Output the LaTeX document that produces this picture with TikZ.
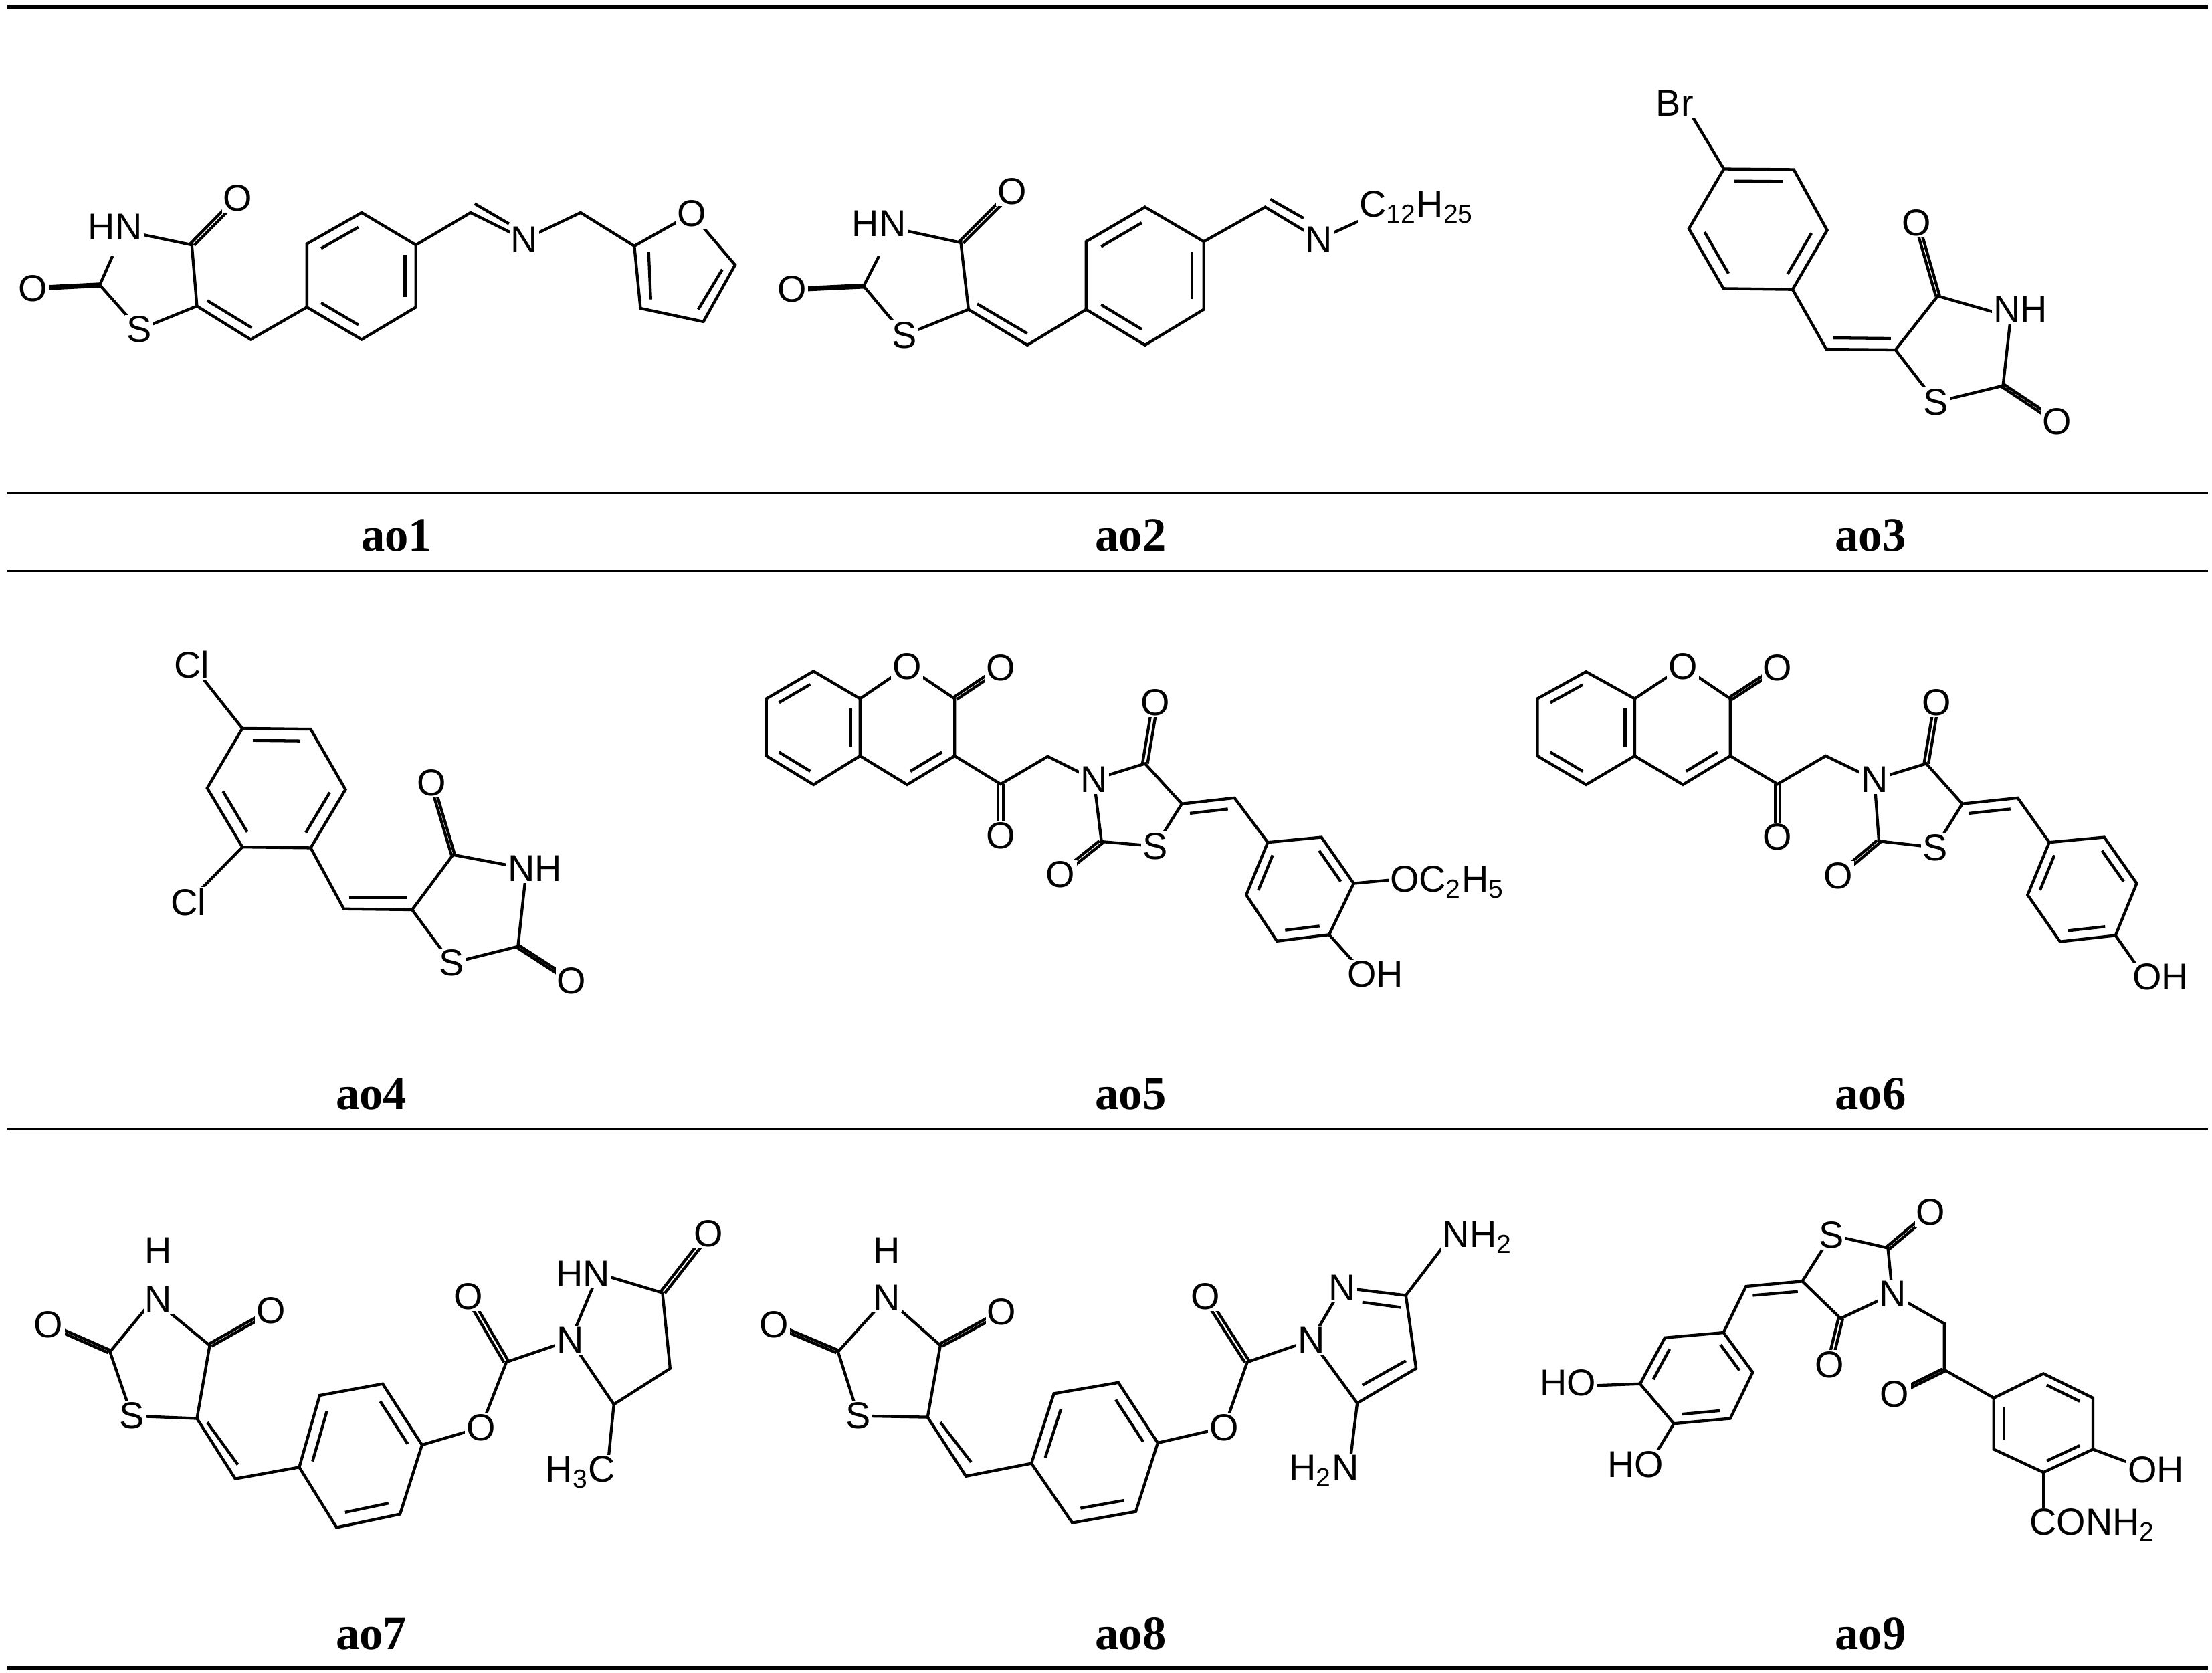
\documentclass[tikz,border=0pt]{standalone}
\usepackage{fontspec}
\setmainfont{Liberation Sans}
\newfontfamily\lblfont{Liberation Serif}
\usetikzlibrary{calc}
\newcommand\ib[3]{\draw[bond,shorten <=1.5pt,shorten >=1.5pt] ($#1!0.2!#3$) -- ($#2!0.2!#3$);}
\newcommand\dbo[2]{\draw[bond] ($#1!2.8pt!90:#2$) -- ($#2!2.8pt!-90:#1$); \draw[bond] ($#1!2.8pt!-90:#2$) -- ($#2!2.8pt!90:#1$);}
\newcommand\sub[1]{\textsubscript{#1}}
\begin{document}
\begin{tikzpicture}[x=0.02cm,y=-0.02cm,
  bond/.style={line width=1.15pt,line join=miter},
  atom/.style={fill=white,inner sep=0.6pt,font=\fontsize{15}{15}\selectfont},
  lbl/.style={font=\lblfont\bfseries\fontsize{19}{19}\selectfont}]
\useasboundingbox (0,0) rectangle (1561,1180.5);
% rules
\draw[line width=1.8pt] (5,5) -- (1558,5);
\draw[line width=0.7pt] (5,348) -- (1558,348);
\draw[line width=0.7pt] (5,403) -- (1558,403);
\draw[line width=0.7pt] (5,797) -- (1558,797);
\draw[line width=1.8pt] (5,1177) -- (1558,1177);
% compound labels
\node[lbl] (l1) at (280,378) {ao1};
\node[lbl] (l2) at (798,378) {ao2};
\node[lbl] (l3) at (1320,378) {ao3};
\node[lbl] (l4) at (262,772) {ao4};
\node[lbl] (l5) at (798,772) {ao5};
\node[lbl] (l6) at (1320,772) {ao6};
\node[lbl] (l7) at (262,1153) {ao7};
\node[lbl] (l8) at (798,1153) {ao8};
\node[lbl] (l9) at (1320,1153) {ao9};

% ---------------- ao1
\begin{scope}[shift={(0,70.8)},xscale=0.361,yscale=0.157]
\draw[bond] (250,590)--(375,650)--(385,925)--(272,1030)--(195,830)--(220,700);
\draw[bond] (385,925)--(490,1075)--(600,930);
\draw[bond] (405,900)--(492,1022);
\dbo{(375,650)}{(465,440)}
\dbo{(195,830)}{(65,845)}
\draw[bond] (600,930)--(600,645)--(707,505)--(813,650)--(813,930)--(707,1075)--cycle;
\ib{(600,930)}{(707,1075)}{(707,790)}
\ib{(600,645)}{(707,505)}{(707,790)}
\ib{(813,650)}{(813,930)}{(707,790)}
\draw[bond] (813,650)--(920,505)--(1025,625)--(1135,505)--(1240,655);
\draw[bond] (928,465)--(995,555);
\draw[bond] (1240,655)--(1352,510)--(1437,740)--(1375,995)--(1252,935)--cycle;
\draw[bond] (1268,680)--(1272,895);
\draw[bond] (1365,940)--(1412,760);
\node[atom] (a1hn) at (225,570) {HN};
\node[atom] (a1o4) at (465,440) {O};
\node[atom] (a1o2) at (65,845) {O};
\node[atom] (a1s) at (272,1030) {S};
\node[atom] (a1n) at (1025,625) {N};
\node[atom] (a1of) at (1352,510) {O};
\end{scope}

% ---------------- ao2
\begin{scope}[shift={(519.2,70.8)},xscale=0.361,yscale=0.157]
\draw[bond] (310,575)--(440,640)--(455,940)--(330,1055)--(250,835)--(280,700);
\draw[bond] (455,940)--(570,1100)--(685,940);
\draw[bond] (472,915)--(570,1048);
\dbo{(440,640)}{(540,410)}
\dbo{(250,835)}{(110,850)}
\draw[bond] (685,940)--(685,635)--(800,480)--(915,635)--(915,940)--(800,1100)--cycle;
\ib{(685,940)}{(800,1100)}{(800,790)}
\ib{(685,635)}{(800,480)}{(800,790)}
\ib{(915,635)}{(915,940)}{(800,790)}
\draw[bond] (915,635)--(1035,480)--(1140,625)--(1240,520);
\draw[bond] (1045,445)--(1110,530);
\node[atom] (a2hn) at (280,555) {HN};
\node[atom] (a2o4) at (540,410) {O};
\node[atom] (a2o2) at (110,850) {O};
\node[atom] (a2s) at (330,1055) {S};
\node[atom] (a2n) at (1140,625) {N};
\node[atom,anchor=west] (a2r) at (1215,480) {C\sub{12}H\sub{25}};
\end{scope}

% ---------------- ao3
\begin{scope}[shift={(1085.6,0)},xscale=0.271,yscale=0.211]
\draw[bond] (380,345)--(483,565);
\draw[bond] (483,565)--(665,567)--(752,770)--(662,968)--(482,965)--(392,765)--cycle;
\ib{(483,565)}{(665,567)}{(572,767)}
\ib{(752,770)}{(662,968)}{(572,767)}
\ib{(482,965)}{(392,765)}{(572,767)}
\draw[bond] (662,968)--(750,1168)--(930,1170)--(1040,990)--(1230,1060)--(1210,1290)--(1035,1345)--(930,1170);
\draw[bond] (768,1130)--(918,1132);
\dbo{(1040,990)}{(985,745)}
\dbo{(1210,1290)}{(1350,1410)}
\node[atom] (a3br) at (355,345) {Br};
\node[atom] (a3o4) at (985,745) {O};
\node[atom] (a3nh) at (1255,1035) {NH};
\node[atom] (a3s) at (1035,1345) {S};
\node[atom] (a3o2) at (1350,1410) {O};
\end{scope}

% ---------------- ao4
\begin{scope}[shift={(94.4,424.8)},xscale=0.241,yscale=0.196]
\draw[bond] (170,225)--(318,455);
\draw[bond] (318,455)--(518,458)--(620,675)--(518,885)--(318,882)--(215,670)--cycle;
\ib{(318,455)}{(518,458)}{(418,670)}
\ib{(620,675)}{(518,885)}{(418,670)}
\ib{(318,882)}{(215,670)}{(418,670)}
\draw[bond] (318,882)--(160,1080);
\draw[bond] (518,885)--(615,1105)--(815,1108)--(935,910)--(1150,960)--(1125,1240)--(930,1300)--(815,1108);
\draw[bond] (630,1065)--(800,1065);
\dbo{(935,910)}{(872,650)}
\dbo{(1125,1240)}{(1282,1365)}
\node[atom] (a4cl1) at (170,225) {Cl};
\node[atom] (a4cl2) at (160,1080) {Cl};
\node[atom] (a4o4) at (872,650) {O};
\node[atom] (a4nh) at (1175,960) {NH};
\node[atom] (a4s) at (930,1300) {S};
\node[atom] (a4o2) at (1282,1365) {O};
\end{scope}

% ---------------- ao5
\begin{scope}[shift={(519.2,434.2)},xscale=0.361,yscale=0.181]
\draw[bond] (152,218)--(243,325)--(243,548)--(152,660)--(60,548)--(60,325)--cycle;
\ib{(60,325)}{(152,218)}{(152,437)}
\ib{(152,660)}{(60,548)}{(152,437)}
\ib{(243,325)}{(243,548)}{(152,437)}
\draw[bond] (243,325)--(335,200)--(428,325)--(428,548)--(335,660)--(243,548);
\ib{(428,548)}{(335,660)}{(335,437)}
\dbo{(428,325)}{(518,205)}
\draw[bond] (428,548)--(518,658)--(610,550)--(700,640)--(800,578)--(872,735)--(820,900)--(715,882)--(700,640);
\dbo{(518,658)}{(518,860)}
\dbo{(800,578)}{(820,340)}
\dbo{(715,882)}{(635,1010)}
\draw[bond] (872,735)--(975,712)--(1040,885);
\draw[bond] (888,772)--(962,755);
\draw[bond] (1040,885)--(1145,865)--(1208,1045)--(1160,1245)--(1058,1270)--(998,1090)--cycle;
\ib{(1040,885)}{(998,1090)}{(1102,1068)}
\ib{(1145,865)}{(1208,1045)}{(1102,1068)}
\ib{(1160,1245)}{(1058,1270)}{(1102,1068)}
\draw[bond] (1208,1045)--(1290,1030);
\draw[bond] (1160,1245)--(1230,1400);
\node[atom] (a5o1) at (335,200) {O};
\node[atom] (a5o2) at (518,205) {O};
\node[atom] (a5ok) at (518,860) {O};
\node[atom] (a5n) at (700,640) {N};
\node[atom] (a5o4) at (820,340) {O};
\node[atom] (a5s) at (820,900) {S};
\node[atom] (a5ot) at (635,1010) {O};
\node[atom,anchor=west] (a5oet) at (1275,1040) {OC\sub{2}H\sub{5}};
\node[atom] (a5oh) at (1250,1400) {OH};
\end{scope}

% ---------------- ao6
\begin{scope}[shift={(1062,434.2)},xscale=0.318,yscale=0.181]
\draw[bond] (180,220)--(288,325)--(288,548)--(180,660)--(72,548)--(72,325)--cycle;
\ib{(72,325)}{(180,220)}{(180,437)}
\ib{(180,660)}{(72,548)}{(180,437)}
\ib{(288,325)}{(288,548)}{(180,437)}
\draw[bond] (288,325)--(395,200)--(500,325)--(500,548)--(395,660)--(288,548);
\ib{(500,548)}{(395,660)}{(395,437)}
\dbo{(500,325)}{(605,205)}
\draw[bond] (500,548)--(605,658)--(712,548)--(820,640)--(935,578)--(1015,735)--(955,905)--(830,880)--(820,640);
\dbo{(605,658)}{(605,865)}
\dbo{(935,578)}{(958,340)}
\dbo{(830,880)}{(740,1015)}
\draw[bond] (1015,735)--(1138,712)--(1208,885);
\draw[bond] (1030,772)--(1122,755);
\draw[bond] (1208,885)--(1330,865)--(1402,1045)--(1355,1248)--(1232,1272)--(1160,1090)--cycle;
\ib{(1208,885)}{(1160,1090)}{(1281,1068)}
\ib{(1330,865)}{(1402,1045)}{(1281,1068)}
\ib{(1355,1248)}{(1232,1272)}{(1281,1068)}
\draw[bond] (1355,1248)--(1420,1410);
\node[atom] (a6o1) at (395,200) {O};
\node[atom] (a6o2) at (605,205) {O};
\node[atom] (a6ok) at (605,865) {O};
\node[atom] (a6n) at (820,640) {N};
\node[atom] (a6o4) at (958,340) {O};
\node[atom] (a6s) at (955,905) {S};
\node[atom] (a6ot) at (740,1015) {O};
\node[atom] (a6oh) at (1455,1410) {OH};
\end{scope}

% ---------------- ao7
\begin{scope}[shift={(0,811.8)},xscale=0.361,yscale=0.181]
\draw[bond] (300,580)--(410,760)--(385,1045)--(258,1035)--(215,785)--(300,580);
\dbo{(215,785)}{(95,680)}
\dbo{(410,760)}{(530,625)}
\draw[bond] (385,1045)--(460,1280)--(585,1235);
\draw[bond] (405,1060)--(465,1225);
\draw[bond] (585,1235)--(625,955)--(748,910)--(825,1148)--(782,1418)--(658,1470)--cycle;
\ib{(585,1235)}{(625,955)}{(705,1190)}
\ib{(748,910)}{(825,1148)}{(705,1190)}
\ib{(782,1418)}{(658,1470)}{(705,1190)}
\draw[bond] (825,1148)--(940,1080)--(990,825)--(1115,740)--(1170,480)--(1295,555)--(1310,850)--(1200,990)--(1115,740);
\dbo{(990,825)}{(915,570)}
\dbo{(1295,555)}{(1385,325)}
\draw[bond] (1200,990)--(1190,1190);
\node[atom] (a7h) at (310,390) {H};
\node[atom] (a7n) at (310,580) {N};
\node[atom] (a7o2) at (95,680) {O};
\node[atom] (a7o4) at (530,625) {O};
\node[atom] (a7s) at (258,1035) {S};
\node[atom] (a7oe) at (940,1080) {O};
\node[atom] (a7oc) at (915,570) {O};
\node[atom] (a7n1) at (1115,740) {N};
\node[atom] (a7hn) at (1140,480) {HN};
\node[atom] (a7ok) at (1385,325) {O};
\node[atom] (a7me) at (1135,1255) {H\sub{3}C};
\end{scope}

% ---------------- ao8
\begin{scope}[shift={(519.2,811.8)},xscale=0.361,yscale=0.181]
\draw[bond] (295,575)--(400,760)--(375,1040)--(240,1035)--(200,785)--(295,575);
\dbo{(200,785)}{(75,680)}
\dbo{(400,760)}{(520,630)}
\draw[bond] (375,1040)--(450,1270)--(578,1220);
\draw[bond] (400,1060)--(460,1215);
\draw[bond] (578,1220)--(622,948)--(748,905)--(825,1140)--(782,1408)--(658,1452)--cycle;
\ib{(578,1220)}{(622,948)}{(702,1178)}
\ib{(748,905)}{(825,1140)}{(702,1178)}
\ib{(782,1408)}{(658,1452)}{(702,1178)}
\draw[bond] (825,1140)--(955,1080)--(1000,825)--(1125,740)--(1185,535)--(1310,565)--(1330,850)--(1215,985)--(1125,740);
\draw[bond] (1225,592)--(1300,612);
\draw[bond] (1310,820)--(1225,915);
\dbo{(1000,825)}{(918,570)}
\draw[bond] (1310,565)--(1400,330);
\draw[bond] (1215,985)--(1200,1230);
\node[atom] (a8h) at (295,390) {H};
\node[atom] (a8n) at (295,575) {N};
\node[atom] (a8o2) at (75,680) {O};
\node[atom] (a8o4) at (520,630) {O};
\node[atom] (a8s) at (240,1035) {S};
\node[atom] (a8oe) at (955,1080) {O};
\node[atom] (a8oc) at (918,570) {O};
\node[atom] (a8n1) at (1125,740) {N};
\node[atom] (a8n2) at (1185,535) {N};
\node[atom] (a8nh2) at (1450,340) {NH\sub{2}};
\node[atom] (a8h2n) at (1150,1250) {H\sub{2}N};
\end{scope}

% ---------------- ao9
\begin{scope}[shift={(1062,811.8)},xscale=0.318,yscale=0.181]
\draw[bond] (660,510)--(725,330)--(850,380)--(860,560)--(745,655)--cycle;
\dbo{(850,380)}{(945,240)}
\dbo{(745,655)}{(720,835)}
\draw[bond] (660,510)--(535,530)--(485,710);
\draw[bond] (550,565)--(650,550);
\draw[bond] (485,710)--(355,730)--(300,910)--(375,1065)--(500,1045)--(550,865)--cycle;
\ib{(485,710)}{(550,865)}{(427,887)}
\ib{(355,730)}{(300,910)}{(427,887)}
\ib{(375,1065)}{(500,1045)}{(427,887)}
\draw[bond] (300,910)--(150,920);
\draw[bond] (375,1065)--(320,1225);
\draw[bond] (860,560)--(975,675)--(975,855)--(1085,965);
\dbo{(975,855)}{(865,950)}
\draw[bond] (1085,965)--(1195,870)--(1305,965)--(1305,1165)--(1195,1255)--(1085,1165)--cycle;
\ib{(1195,870)}{(1305,965)}{(1195,1062)}
\ib{(1085,965)}{(1085,1165)}{(1195,1062)}
\ib{(1305,1165)}{(1195,1255)}{(1195,1062)}
\draw[bond] (1305,1165)--(1420,1240);
\draw[bond] (1195,1255)--(1195,1420);
\node[atom] (a9s) at (725,330) {S};
\node[atom] (a9o2) at (945,240) {O};
\node[atom] (a9n) at (860,560) {N};
\node[atom] (a9o4) at (720,835) {O};
\node[atom] (a9ho1) at (140,905) {HO};
\node[atom] (a9ho2) at (290,1225) {HO};
\node[atom] (a9ok) at (865,950) {O};
\node[atom] (a9oh) at (1445,1245) {OH};
\node[atom,anchor=west] (a9am) at (1160,1460) {CONH\sub{2}};
\end{scope}
\end{tikzpicture}
\end{document}
